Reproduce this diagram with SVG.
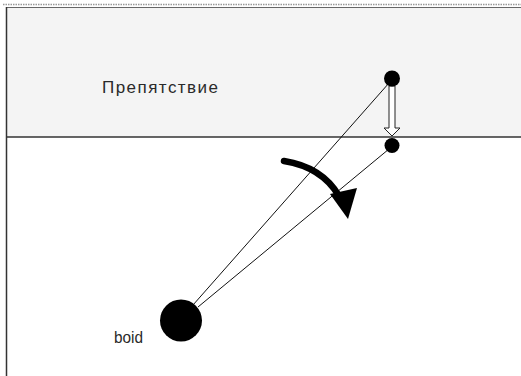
<svg xmlns="http://www.w3.org/2000/svg" width="521" height="376" viewBox="0 0 521 376">
<style>
.lbl{font-family:"Liberation Sans","DejaVu Sans",Arial,sans-serif;fill:#2a2a2a}
.ray{stroke:#111;stroke-width:1;fill:none}
.dot{fill:#000}
</style>
<rect x="0" y="0" width="521" height="376" fill="#fff"/>
<line x1="3" y1="4.5" x2="521" y2="4.5" stroke="#999" stroke-width="1.5" stroke-dasharray="1.5 1"/>
<g id="obstacle">
<rect x="7" y="7.5" width="514" height="129.5" fill="#f4f4f4"/>
<line x1="7" y1="7.5" x2="521" y2="7.5" stroke="#666" stroke-width="1"/>
<line x1="7" y1="137" x2="521" y2="137" stroke="#333" stroke-width="1.5"/>
<text class="lbl" x="102" y="93" font-size="17" textLength="116" lengthAdjust="spacing">Препятствие</text>
</g>
<line x1="6.5" y1="7" x2="6.5" y2="376" stroke="#333" stroke-width="1.5"/>
<g id="connectors">
<line class="ray" x1="389" y1="83" x2="193" y2="305"/>
<line class="ray" x1="389" y1="149" x2="198" y2="307"/>
<polygon points="389,86 395,86 395,128 400,128 392,136 384,128 389,128" fill="#fff" stroke="#222" stroke-width="1"/>
<path d="M284,161 Q322,167 339,196" fill="none" stroke="#000" stroke-width="6.5" stroke-linecap="round"/>
<polygon points="330,194 357,188 348,219" fill="#000"/>
</g>
<g id="target1"><circle class="dot" cx="392" cy="78.5" r="8"/></g>
<g id="target2"><circle class="dot" cx="392" cy="145.5" r="7.5"/></g>
<g id="boid">
<circle class="dot" cx="181" cy="320.5" r="21"/>
<text class="lbl" x="114" y="343" font-size="16" textLength="29" lengthAdjust="spacingAndGlyphs">boid</text>
</g>
</svg>
